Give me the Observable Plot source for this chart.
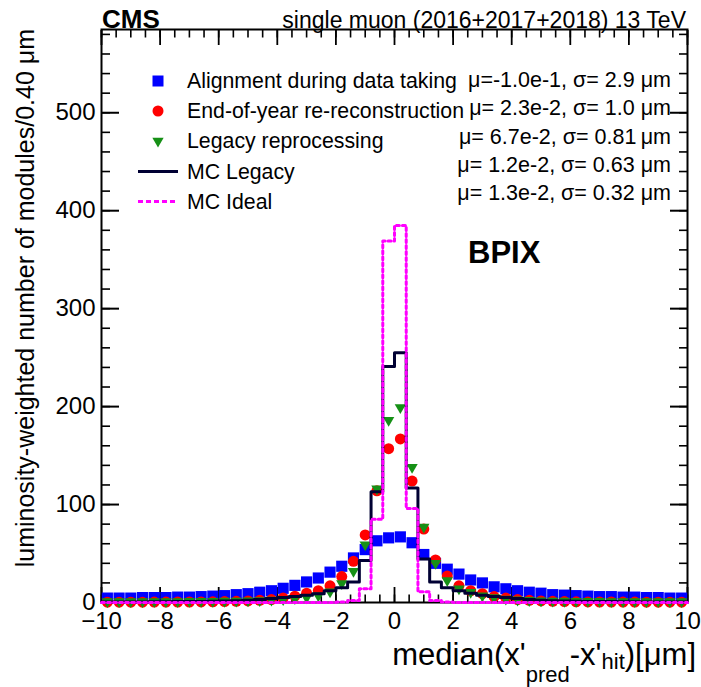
<!DOCTYPE html>
<html>
<head>
<meta charset="utf-8">
<script src="https://cdn.jsdelivr.net/npm/d3@7"></script>
<script src="https://cdn.jsdelivr.net/npm/@observablehq/plot@0.6"></script>
<style>
  body { margin: 0; background: #fff; }
  #chart svg { display: block; }
</style>
</head>
<body>
<div id="chart"></div>
<script>
// ---- Binning ----
const xMin = -10, xMax = 10, binWidth = 0.4, nBins = 50;

// ---- Series values (per bin, left to right) ----
const alignment = [ // Alignment during data taking (blue squares)
  4.5, 4.5, 4.5, 5, 5, 5, 5.5, 5.5, 6, 6.5,
  7, 8, 9, 10.5, 12, 14.5, 17.5, 21, 25, 31,
  37, 45.5, 54, 63, 66, 67, 61, 49, 40, 34,
  29, 23, 20, 16, 14, 12, 10.5, 9.5, 8, 7.5,
  7, 6.5, 6, 6, 5.5, 5.5, 5, 5, 4.5, 4.5
];
const endOfYear = [ // End-of-year re-reconstruction (red circles)
  0.3, 0.3, 0.3, 0.3, 0.4, 0.4, 0.5, 0.5, 0.6, 0.7,
  0.9, 1.2, 1.6, 2.2, 3, 4.5, 6.5, 9.5, 12, 17,
  26.5, 42, 69, 114, 157, 167, 124, 75, 43.5, 27,
  17, 12, 9, 6, 4.5, 3, 2.2, 1.6, 1.2, 0.9,
  0.7, 0.6, 0.5, 0.5, 0.4, 0.4, 0.3, 0.3, 0.3, 0.3
];
const legacy = [ // Legacy reprocessing (green triangles)
  1, 1, 1, 1, 1, 1, 1, 1.2, 1.2, 1.3,
  1.4, 1.5, 1.7, 2, 2.5, 3, 4, 5, 7, 11,
  19.5, 32, 59, 116, 186, 199, 138, 77, 40, 22.5,
  14, 10.5, 7, 5, 3.5, 2.7, 2.2, 1.8, 1.6, 1.4,
  1.3, 1.2, 1.2, 1.1, 1.1, 1, 1, 1, 1, 1
];
const mcLegacy = [ // MC Legacy (dark step line)
  0.5, 0.5, 0.6, 0.6, 0.7, 0.8, 0.9, 1, 1.1, 1.3,
  1.5, 1.8, 2.2, 3, 4, 5, 6, 7.5, 9, 12,
  15, 21, 43, 113, 241, 255, 117, 44.5, 21, 15,
  12, 9.5, 7.5, 6, 5, 4, 3, 2.3, 1.8, 1.5,
  1.3, 1.1, 1, 0.9, 0.8, 0.7, 0.6, 0.6, 0.5, 0.5
];
const mcIdeal = [ // MC Ideal (magenta dotted step line)
  0, 0, 0, 0, 0, 0, 0, 0, 0, 0,
  0, 0, 0, 0, 0, 0, 0, 0, 0, 0,
  0.5, 2, 14, 85, 369, 385, 96, 11, 2, 0.5,
  0, 0, 0, 0, 0, 0, 0, 0, 0, 0,
  0, 0, 0, 0, 0, 0, 0, 0, 0, 0
];

// ---- Labels / ticks ----
const seriesNames = ["Alignment during data taking", "End-of-year re-reconstruction", "Legacy reprocessing", "MC Legacy", "MC Ideal"];
const statLabels = [
  "\u03bc=-1.0e-1, \u03c3= 2.9 \u03bcm",
  "\u03bc= 2.3e-2, \u03c3= 1.0 \u03bcm",
  "\u03bc= 6.7e-2, \u03c3= 0.81\u2009\u03bcm",
  "\u03bc= 1.2e-2, \u03c3= 0.63 \u03bcm",
  "\u03bc= 1.3e-2, \u03c3= 0.32 \u03bcm"
];
const xTicks = [-10, -8, -6, -4, -2, 0, 2, 4, 6, 8, 10];
const xMinorTicks = d3.range(-10, 10.001, 0.5);
const yTicks = [0, 100, 200, 300, 400, 500];
const yMinorTicks = d3.range(0, 581, 20);
const yMax = 585;

// ---- Colours ----
const cBlue = "#0000ff", cRed = "#ff0000", cGreen = "#169016", cBlack = "#000033", cMagenta = "#ff00ff";

// ---- Build tables ----
const centers = d3.range(nBins).map(i => xMin + binWidth * (i + 0.5));
const pts = vals => vals.map((v, i) => ({x: centers[i], y: v}));
const steps = vals => vals.map((v, i) => ({x: xMin + binWidth * i, y: v})).concat([{x: xMax, y: vals[vals.length - 1]}]);

const W = 701, H = 687;
const mL = 101, mR = 14, mT = 29, mB = 85;
const FONT = "'Liberation Sans', Arial, Helvetica, sans-serif";

// inward tick marks (axis marks with negative tick size, no text)
const inTicks = (axisFn, anchor, ticks, size, sw) =>
  axisFn({anchor, ticks, tickSize: -size, fill: "none", label: null, stroke: "black", strokeWidth: sw});

const chart = Plot.plot({
  width: W, height: H,
  marginLeft: mL, marginRight: mR, marginTop: mT, marginBottom: mB,
  style: {fontFamily: FONT, fontSize: "24px", background: "#fff", color: "#000"},
  x: {domain: [xMin, xMax]},
  y: {domain: [0, yMax]},
  marks: [
    inTicks(Plot.axisX, "bottom", xMinorTicks, 7.5, 1.6),
    inTicks(Plot.axisX, "bottom", xTicks, 15, 1.8),
    inTicks(Plot.axisX, "top", xMinorTicks, 7.5, 1.6),
    inTicks(Plot.axisX, "top", xTicks, 15, 1.8),
    inTicks(Plot.axisY, "left", yMinorTicks, 9, 1.6),
    inTicks(Plot.axisY, "left", yTicks, 18, 2),
    inTicks(Plot.axisY, "right", yMinorTicks, 9, 1.6),
    inTicks(Plot.axisY, "right", yTicks, 18, 2),
    Plot.frame({stroke: "black", strokeWidth: 2}),
    // data
    Plot.dot(pts(alignment), {x: "x", y: "y", symbol: "square", r: 6.3, fill: cBlue, stroke: null}),
    Plot.dot(pts(endOfYear), {x: "x", y: "y", symbol: "circle", r: 5.5, fill: cRed, stroke: null}),
    Plot.dot(pts(legacy), {x: "x", y: "y", symbol: "triangle", r: 4.2, rotate: 180, fill: cGreen, stroke: null}),
    Plot.line(steps(mcLegacy), {x: "x", y: "y", curve: "step-after", stroke: cBlack, strokeWidth: 3}),
    Plot.line(steps(mcIdeal), {x: "x", y: "y", curve: "step-after", stroke: cMagenta, strokeWidth: 3, strokeDasharray: "3,3"}),
    // tick labels
    Plot.axisX({ticks: xTicks, tickSize: 0, tickPadding: 9, label: null, fontSize: 24}),
    Plot.axisY({ticks: yTicks, tickSize: 0, tickPadding: 6, label: null, fontSize: 24})
  ]
});

document.getElementById("chart").appendChild(chart);

// ---- Annotations (title, axis titles, legend, statistics) ----
const svg = d3.select(chart);
const g = svg.append("g").attr("font-family", FONT).attr("fill", "black").attr("text-anchor", "start");

g.append("text").attr("x", 102).attr("y", 28).attr("text-anchor", "start")
  .attr("font-size", 26).attr("font-weight", "bold").text("CMS");
g.append("text").attr("x", 686).attr("y", 28).attr("font-size", 23).attr("text-anchor", "end")
  .text("single muon (2016+2017+2018) 13 TeV");

// y-axis title
g.append("text").attr("transform", "translate(34,29) rotate(-90)").attr("text-anchor", "end")
  .attr("font-size", 25).text("luminosity-weighted number of modules/0.40 \u03bcm");

// x-axis title with subscripts
const xt = g.append("text").attr("x", 696).attr("y", 665).attr("text-anchor", "end").attr("font-size", 31);
xt.append("tspan").text("median(x'");
xt.append("tspan").attr("font-size", 22).attr("dy", 17).text("pred");
xt.append("tspan").attr("dy", -17).text("-x'");
xt.append("tspan").attr("font-size", 22).attr("dy", 4).text("hit");
xt.append("tspan").attr("dy", -4).text(")[\u03bcm]");

// BPIX
g.append("text").attr("x", 468).attr("y", 252).attr("dominant-baseline", "central").attr("text-anchor", "start")
  .attr("font-size", 31).attr("font-weight", "bold").text("BPIX");

// legend
const legY = [81, 111, 141, 171.5, 201.5];
const mx = 158;
g.append("path").attr("transform", `translate(${mx},${legY[0]})`)
  .attr("d", d3.symbol(d3.symbolSquare, 121)()).attr("fill", cBlue);
g.append("path").attr("transform", `translate(${mx},${legY[1]})`)
  .attr("d", d3.symbol(d3.symbolCircle, Math.PI * 5.5 * 5.5)()).attr("fill", cRed);
g.append("path").attr("transform", `translate(${mx},${legY[2]}) rotate(180)`)
  .attr("d", d3.symbol(d3.symbolTriangle, Math.PI * 4.2 * 4.2)()).attr("fill", cGreen);
g.append("line").attr("x1", 138).attr("x2", 178).attr("y1", legY[3]).attr("y2", legY[3])
  .attr("stroke", cBlack).attr("stroke-width", 3);
g.append("line").attr("x1", 138).attr("x2", 178).attr("y1", legY[4]).attr("y2", legY[4])
  .attr("stroke", cMagenta).attr("stroke-width", 3).attr("stroke-dasharray", "5,3");
seriesNames.forEach((s, i) => {
  g.append("text").attr("x", 187).attr("y", legY[i]).attr("dominant-baseline", "central")
    .attr("text-anchor", "start").attr("font-size", 21.3).text(s);
});

// statistics
const statY = [80, 108, 137, 165, 193];
statLabels.forEach((s, i) => {
  g.append("text").attr("x", 671).attr("y", statY[i]).attr("dominant-baseline", "central")
    .attr("text-anchor", "end").attr("font-size", 21.5).text(s);
});
</script>
</body>
</html>
